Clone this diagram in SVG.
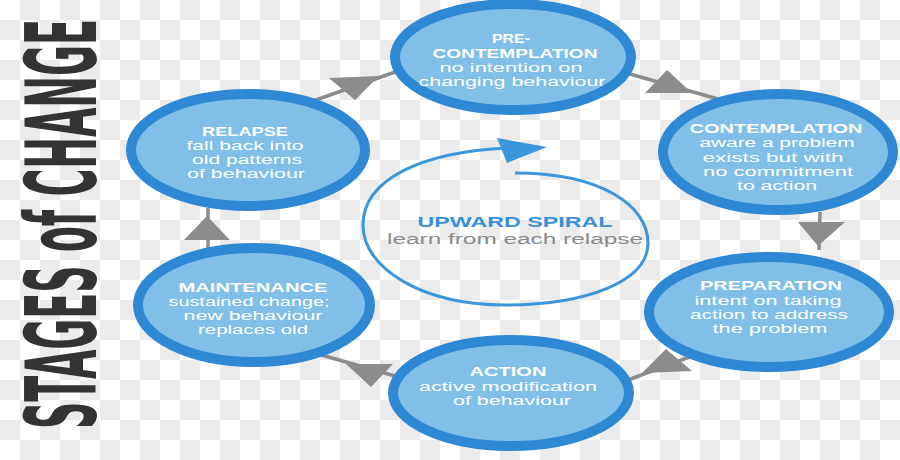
<svg xmlns="http://www.w3.org/2000/svg" width="900" height="460" viewBox="0 0 900 460">
<defs>
<pattern id="checker" x="0" y="0" width="40" height="40" patternUnits="userSpaceOnUse">
<rect width="40" height="40" fill="#ffffff"/>
<rect x="20" y="0" width="20" height="20" fill="#ebebeb"/>
<rect x="0" y="20" width="20" height="20" fill="#ebebeb"/>
</pattern>
</defs>
<style>
.stage{fill:#80c0e8;stroke:#2f88d4;stroke-width:10}
.t{font-family:"Liberation Sans","Open Sans",sans-serif;fill:#ffffff;font-size:12px;text-anchor:middle}
.b{font-weight:bold}
.con line{stroke:#8c8c8c;stroke-width:3.5}
.con polygon{fill:#8c8c8c}
</style>
<rect width="900" height="460" fill="url(#checker)"/>
<g id="title">
<text transform="translate(96,224) rotate(-90) scale(1,1.95)" x="0" y="0" text-anchor="middle" font-family="'Liberation Sans Narrow','DejaVu Sans Condensed',sans-serif" font-size="50" font-weight="bold" fill="#333333" textLength="410" lengthAdjust="spacingAndGlyphs">STAGES of CHANGE</text>
</g>
<g id="connectors" class="con">
<line x1="313" y1="101" x2="395" y2="72"/>
<polygon points="379,76 329,78 355,100"/>
<line x1="630" y1="74" x2="718" y2="99"/>
<polygon points="692,93 667,70 645,93"/>
<line x1="820" y1="212" x2="819" y2="250"/>
<polygon points="818,246 798,222 845,222"/>
<line x1="692" y1="356" x2="628" y2="380"/>
<polygon points="642,373 692,371 666,349"/>
<line x1="395" y1="376" x2="318" y2="354"/>
<polygon points="346,364 371,387 393,364"/>
<line x1="208" y1="256" x2="208" y2="208"/>
<polygon points="207,216 184,240 230,240"/>
</g>
<g id="spiral">
<path d="M 515 173 C 600 173, 648 205, 648 243 C 648 282, 585 305, 505 305 C 425 305, 363 270, 363 225 C 363 180, 420 152, 508 148" fill="none" stroke="#3b96dc" stroke-width="3"/>
<polygon points="547,147 497,138 507,163" fill="#3b96dc"/>
<text x="515" y="227" font-family="'Liberation Sans','Open Sans',sans-serif" font-size="14" font-weight="bold" fill="#3a8fd9" text-anchor="middle" textLength="195" lengthAdjust="spacingAndGlyphs">UPWARD SPIRAL</text>
<text x="515" y="244" font-family="'Liberation Sans','Open Sans',sans-serif" font-size="14" fill="#8a8a8a" text-anchor="middle" textLength="256" lengthAdjust="spacingAndGlyphs">learn from each relapse</text>
</g>
<g id="precontemplation">
<ellipse class="stage" cx="513" cy="57" rx="118" ry="53"/>
<text class="t b" x="511" y="43" textLength="38" lengthAdjust="spacingAndGlyphs">PRE-</text>
<text class="t b" x="515" y="58" textLength="165" lengthAdjust="spacingAndGlyphs">CONTEMPLATION</text>
<text class="t" x="511" y="72" textLength="143" lengthAdjust="spacingAndGlyphs">no intention on</text>
<text class="t" x="512" y="86" textLength="187" lengthAdjust="spacingAndGlyphs">changing behaviour</text>
</g>
<g id="contemplation">
<ellipse class="stage" cx="778" cy="152" rx="115" ry="58"/>
<text class="t b" x="776" y="133" textLength="173" lengthAdjust="spacingAndGlyphs">CONTEMPLATION</text>
<text class="t" x="777" y="147" textLength="155" lengthAdjust="spacingAndGlyphs">aware a problem</text>
<text class="t" x="773" y="162" textLength="141" lengthAdjust="spacingAndGlyphs">exists but with</text>
<text class="t" x="778" y="176" textLength="150" lengthAdjust="spacingAndGlyphs">no commitment</text>
<text class="t" x="777" y="190" textLength="80" lengthAdjust="spacingAndGlyphs">to action</text>
</g>
<g id="preparation">
<ellipse class="stage" cx="769" cy="312" rx="120" ry="55"/>
<text class="t b" x="771" y="290" textLength="142" lengthAdjust="spacingAndGlyphs">PREPARATION</text>
<text class="t" x="768" y="305" textLength="147" lengthAdjust="spacingAndGlyphs">intent on taking</text>
<text class="t" x="769" y="319" textLength="158" lengthAdjust="spacingAndGlyphs">action to address</text>
<text class="t" x="770" y="333" textLength="115" lengthAdjust="spacingAndGlyphs">the problem</text>
</g>
<g id="action">
<ellipse class="stage" cx="511" cy="393" rx="118" ry="53"/>
<text class="t b" x="508" y="376" textLength="77" lengthAdjust="spacingAndGlyphs">ACTION</text>
<text class="t" x="508" y="391" textLength="178" lengthAdjust="spacingAndGlyphs">active modification</text>
<text class="t" x="512" y="405" textLength="118" lengthAdjust="spacingAndGlyphs">of behaviour</text>
</g>
<g id="maintenance">
<ellipse class="stage" cx="254" cy="305" rx="116" ry="57"/>
<text class="t b" x="253" y="292" textLength="149" lengthAdjust="spacingAndGlyphs">MAINTENANCE</text>
<text class="t" x="249" y="306" textLength="161" lengthAdjust="spacingAndGlyphs">sustained change;</text>
<text class="t" x="253" y="320" textLength="139" lengthAdjust="spacingAndGlyphs">new behaviour</text>
<text class="t" x="253" y="334" textLength="110" lengthAdjust="spacingAndGlyphs">replaces old</text>
</g>
<g id="relapse">
<ellipse class="stage" cx="248" cy="150" rx="117" ry="56"/>
<text class="t b" x="245" y="136" textLength="86" lengthAdjust="spacingAndGlyphs">RELAPSE</text>
<text class="t" x="245" y="150" textLength="117" lengthAdjust="spacingAndGlyphs">fall back into</text>
<text class="t" x="247" y="164" textLength="110" lengthAdjust="spacingAndGlyphs">old patterns</text>
<text class="t" x="246" y="178" textLength="118" lengthAdjust="spacingAndGlyphs">of behaviour</text>
</g>
</svg>
